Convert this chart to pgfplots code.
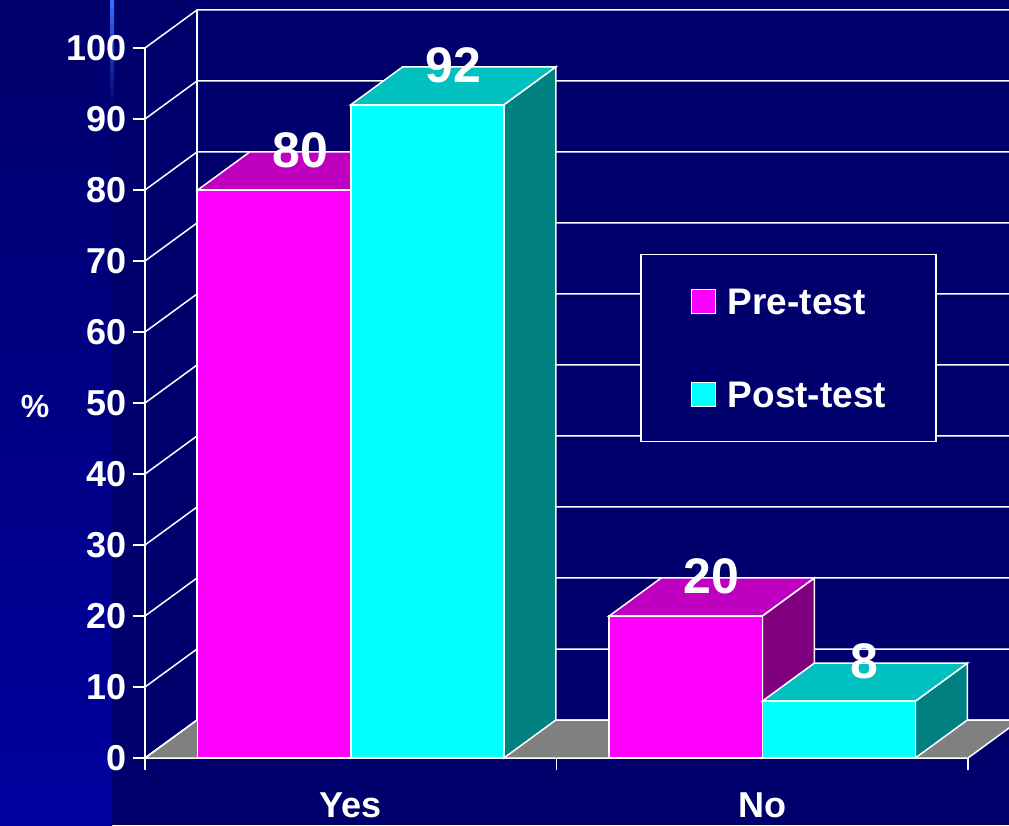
\documentclass[border=0pt]{standalone}
\usepackage{pgfplots}
\usepackage{pgfplotstable}
\pgfplotsset{compat=1.18}
\usepackage{fontspec}
\setmainfont{Liberation Sans}
\definecolor{bg}{RGB}{0,0,108}
\definecolor{bgl}{RGB}{0,0,158}
\definecolor{streak}{RGB}{60,110,255}
\definecolor{magfront}{RGB}{255,0,255}
\definecolor{magtop}{RGB}{192,0,192}
\definecolor{magside}{RGB}{128,0,128}
\definecolor{cyfront}{RGB}{0,255,255}
\definecolor{cytop}{RGB}{0,192,192}
\definecolor{cyside}{RGB}{0,128,128}
\definecolor{floorgray}{RGB}{128,128,128}

\pgfplotstableread{
x pre post
0.5 80 92
1.5 20 8
}\datatable

\begin{document}
\begin{tikzpicture}
\fill[bg] (0pt,0pt) rectangle (1009pt,825pt);
\shade[top color=bg, bottom color=bgl] (0pt,0pt) rectangle (112pt,825pt);
\shade[top color=streak, bottom color=bg] (110pt,720pt) rectangle (114pt,825pt);
\begin{axis}[
  at={(145pt,67pt)}, anchor=south west,
  x=411.5pt, y=7.1pt,
  xmin=0, xmax=2, ymin=0, ymax=100,
  clip=false, clip mode=individual,
  axis y line*=left, axis x line*=bottom,
  axis line style={white, line width=1.5pt, -},
  ytick={0,10,...,100},
  xtick={0.5,1.5}, xticklabels={Yes,No},
  minor xtick={0,1,2},
  major x tick style={draw=none},
  tick style={white, line width=1.5pt},
  minor tick style={white, line width=1.5pt},
  tick align=outside,
  major tick length=12pt, minor tick length=12pt,
  /pgf/number format/assume math mode=true,
  tick label style={font=\fontsize{36}{40}\selectfont\bfseries, text=white},
  yticklabel style={inner sep=0pt, xshift=-6pt},
  xticklabel style={inner sep=0pt, yshift=-23pt},
  ylabel={\%},
  ylabel style={at={(axis cs:-0.267,49.5)}, rotate=-90, anchor=center,
    font=\fontsize{32}{36}\selectfont\bfseries, text=white},
  legend style={at={(axis cs:1.203,71)}, anchor=north west, draw=white,
    line width=1.5pt, fill=bg, text=white,
    font=\fontsize{37}{40}\selectfont\bfseries,
    inner xsep=50pt, inner ysep=34pt, row sep=67pt, column sep=12pt,
    nodes={inner sep=0pt, text height=26pt, text depth=0pt}},
  legend cell align=left,
  legend image code/.code={\draw[#1, line width=1pt] (0pt,-12pt) rectangle (24pt,12pt);},
]
% floor
\draw[fill=floorgray, draw=white, line width=1.5pt]
  (axis cs:0,0) -- (axis cs:2,0) -- ([shift={(52pt,38pt)}]axis cs:2,0)
  -- ([shift={(52pt,38pt)}]axis cs:0,0) -- cycle;
% back wall grid
\pgfplotsinvokeforeach{0,10,...,100}{
  \draw[white, line width=1.5pt] (axis cs:0,#1) -- ([shift={(52pt,38pt)}]axis cs:0,#1)
    -- ([shift={(52pt,38pt)}]axis cs:2.2,#1);
}
\draw[white, line width=1.5pt] ([shift={(52pt,38pt)}]axis cs:0,0) -- ([shift={(52pt,38pt)}]axis cs:0,100);

% Pre-test: depth faces
\addplot[forget plot, only marks, mark=*, mark size=0pt,
  scatter, point meta=y,
  visualization depends on={\thisrow{pre} \as \val},
  scatter/@pre marker code/.code={%
    \pgfmathsetmacro\h{\val*7.1}%
    \fill[magside, draw=white, line width=1.5pt] (0pt,0pt) -- (52pt,38pt) -- (52pt,38pt-\h pt) -- (0pt,-\h pt) -- cycle;
    \fill[magtop, draw=white, line width=1.5pt] (-153.1pt,0pt) -- (-101.1pt,38pt) -- (52pt,38pt) -- (0pt,0pt) -- cycle;
  },
  scatter/@post marker code/.code={},
] table[x=x, y=pre] {\datatable};
\addplot[ybar, bar width=0.372, bar shift=-0.186, fill=magfront, draw=white, line width=1.5pt,
  nodes near coords,
  nodes near coords style={anchor=center, xshift=-50.5pt, yshift=40pt, text=white,
    font=\fontsize{50}{54}\selectfont\bfseries}]
  table[x=x, y=pre] {\datatable};
\addlegendentry{Pre-test}

% Post-test: depth faces
\addplot[forget plot, only marks, mark=*, mark size=0pt,
  scatter, point meta=y,
  visualization depends on={\thisrow{post} \as \val},
  scatter/@pre marker code/.code={%
    \pgfmathsetmacro\h{\val*7.1}%
    \fill[cyside, draw=white, line width=1.5pt] (153.1pt,0pt) -- (205.1pt,38pt) -- (205.1pt,38pt-\h pt) -- (153.1pt,-\h pt) -- cycle;
    \fill[cytop, draw=white, line width=1.5pt] (0pt,0pt) -- (52pt,38pt) -- (205.1pt,38pt) -- (153.1pt,0pt) -- cycle;
  },
  scatter/@post marker code/.code={},
] table[x=x, y=post] {\datatable};
\addplot[ybar, bar width=0.372, bar shift=0.186, fill=cyfront, draw=white, line width=1.5pt,
  nodes near coords,
  nodes near coords style={anchor=center, xshift=102.5pt, yshift=40pt, text=white,
    font=\fontsize{50}{54}\selectfont\bfseries}]
  table[x=x, y=post] {\datatable};
\addlegendentry{Post-test}
\end{axis}
\pgfresetboundingbox
\useasboundingbox (0pt,0pt) rectangle (1009pt,825pt);
\end{tikzpicture}
\end{document}
